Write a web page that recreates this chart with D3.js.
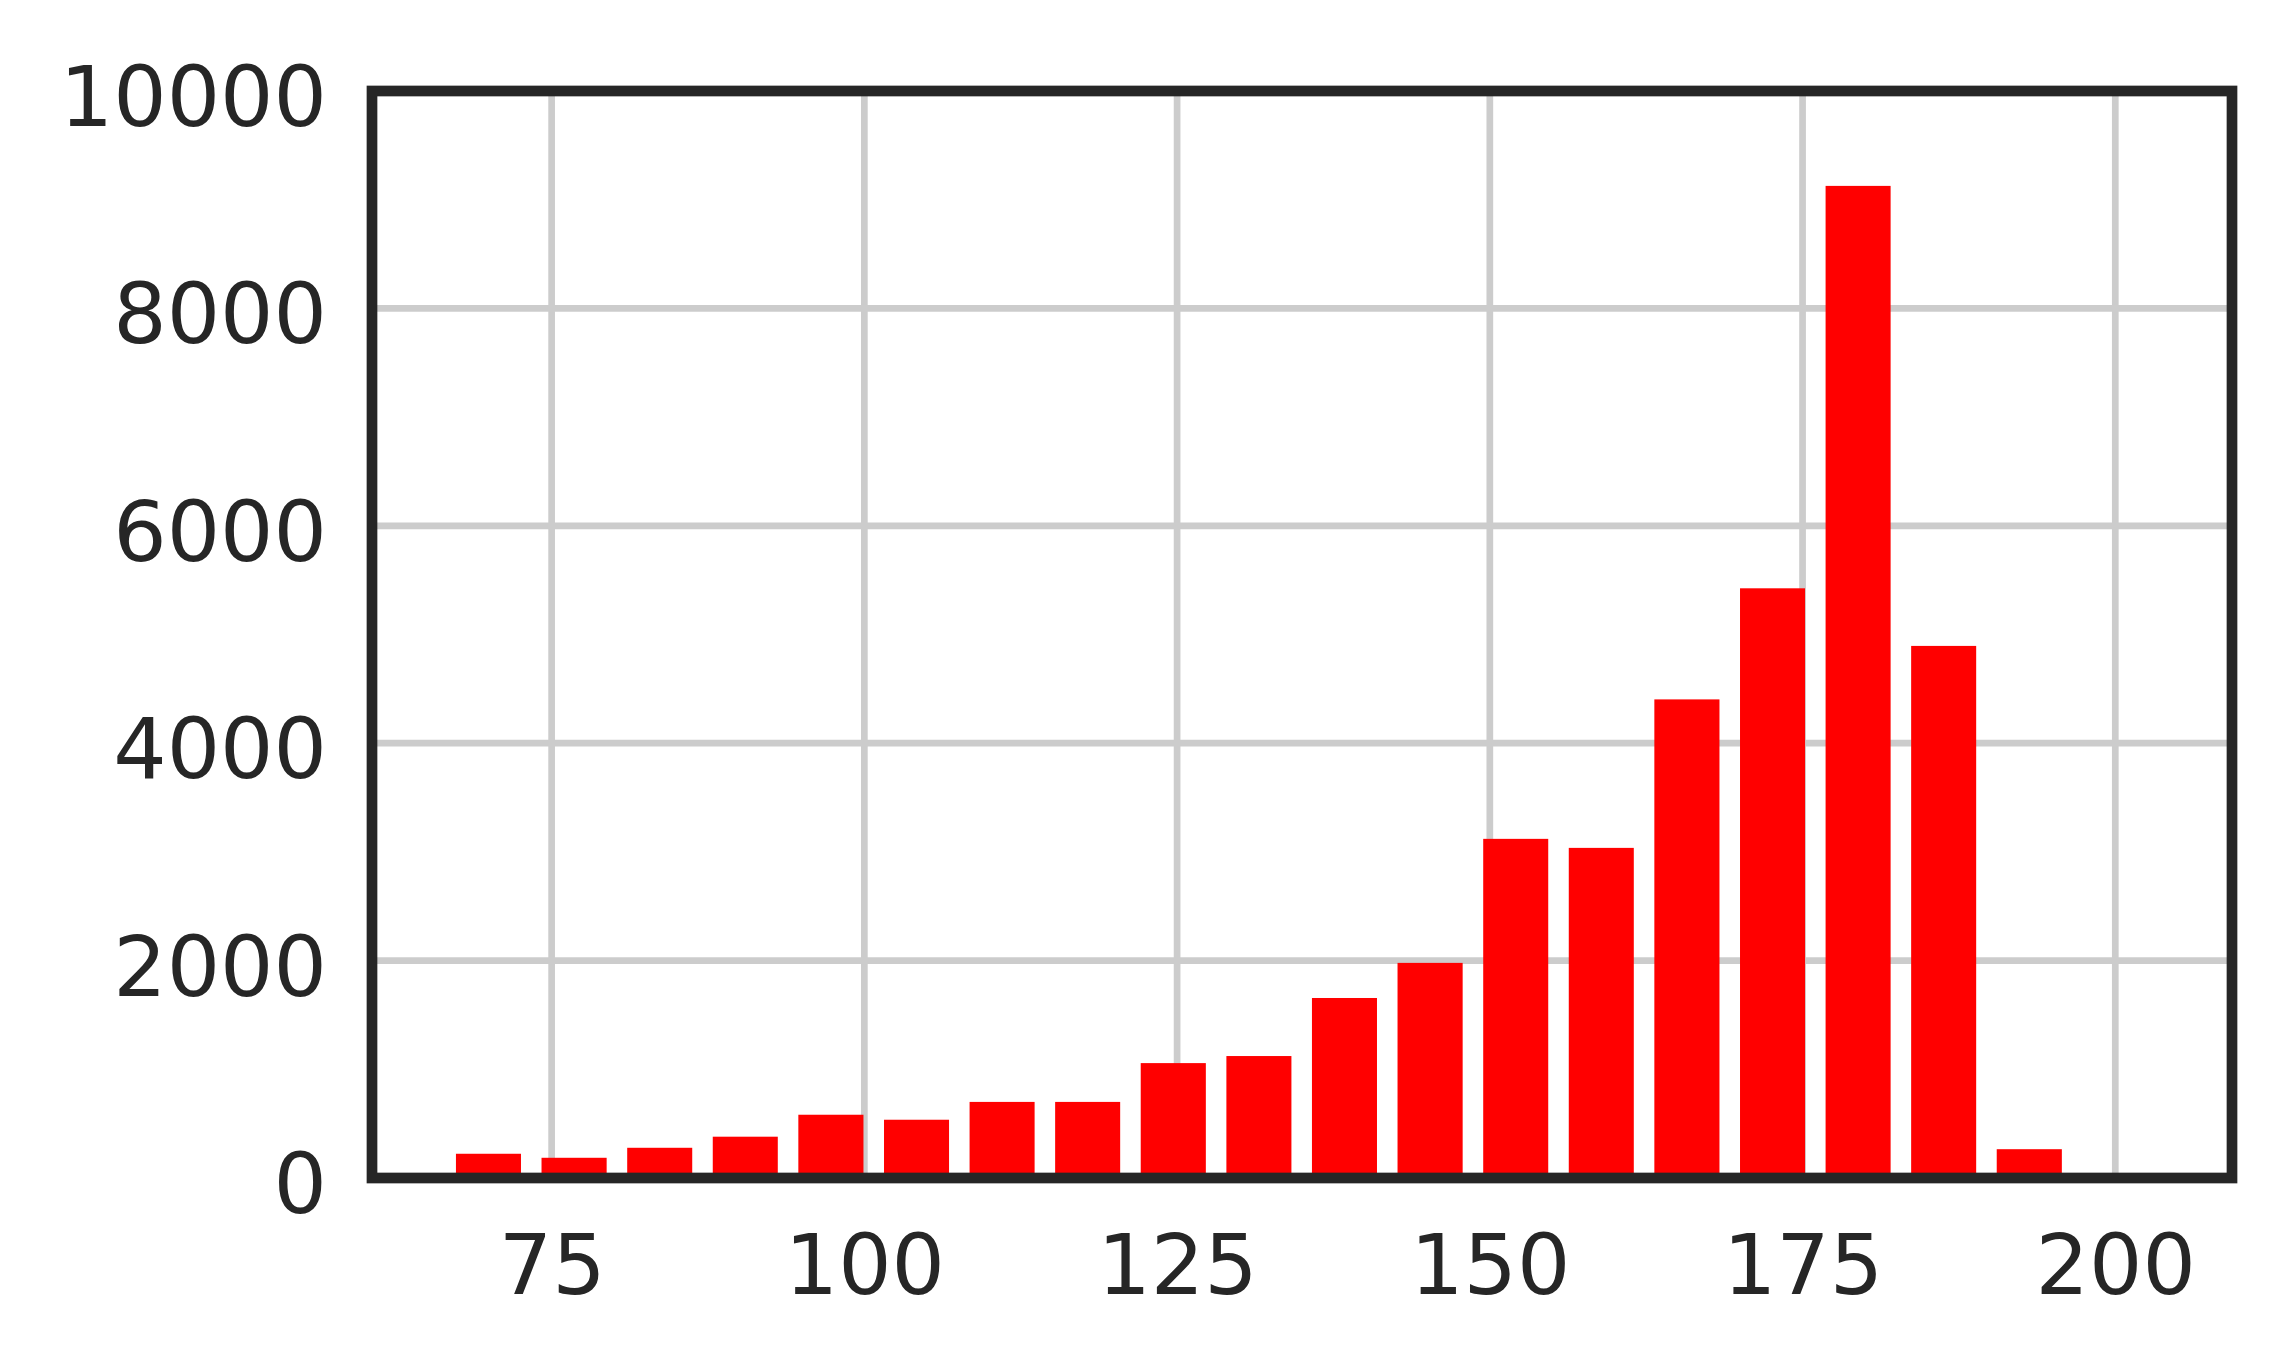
<!DOCTYPE html>
<html>
<head>
<meta charset="utf-8">
<script src="https://cdn.jsdelivr.net/npm/d3@7"></script>
<style>
  html, body { margin: 0; padding: 0; background: #ffffff; }
  svg { display: block; }
</style>
</head>
<body>
<svg id="chart" width="2291" height="1366"></svg>
<script>
// ---- data ----
const binEdges = [66.53, 73.37, 80.22, 87.06, 93.90, 100.75, 107.59, 114.43, 121.27, 128.12,
                  134.96, 141.80, 148.65, 155.49, 162.33, 169.18, 176.02, 182.86, 189.70, 196.55, 203.39];
const counts = [223, 186, 278, 380, 582, 536, 700, 700, 1057, 1122,
                1656, 1979, 3120, 3037, 4403, 5425, 9127, 4895, 265, 0];
const xTickValues = [75, 100, 125, 150, 175, 200];
const yTickValues = [0, 2000, 4000, 6000, 8000, 10000];
const xDomain = [60.64, 209.33];
const yDomain = [0, 10000];
const barFraction = 0.76;

// ---- layout ----
const plotLeft = 372, plotRight = 2232, plotTop = 91, plotBottom = 1178;
const fontSize = 84;
const textColor = "#262626";

const svg = d3.select("#chart");
const x = d3.scaleLinear().domain(xDomain).range([plotLeft, plotRight]);
const y = d3.scaleLinear().domain(yDomain).range([plotBottom, plotTop]);

// gridlines
const grid = svg.append("g");
grid.selectAll("line.vg").data(xTickValues).enter().append("line")
  .attr("class", "vg")
  .attr("x1", d => x(d)).attr("x2", d => x(d))
  .attr("y1", plotTop).attr("y2", plotBottom)
  .attr("stroke", "#cccccc").attr("stroke-width", 6.7);
grid.selectAll("line.hg").data(yTickValues).enter().append("line")
  .attr("class", "hg")
  .attr("x1", plotLeft).attr("x2", plotRight)
  .attr("y1", d => y(d)).attr("y2", d => y(d))
  .attr("stroke", "#cccccc").attr("stroke-width", 6.7);

// bars
const bins = counts.map((c, i) => ({x0: binEdges[i], x1: binEdges[i + 1], count: c}));
svg.append("g").selectAll("rect").data(bins).enter().append("rect")
  .attr("x", d => {
    const w = x(d.x1) - x(d.x0);
    return x(d.x0) + w * (1 - barFraction) / 2;
  })
  .attr("width", d => (x(d.x1) - x(d.x0)) * barFraction)
  .attr("y", d => y(d.count))
  .attr("height", d => y(0) - y(d.count))
  .attr("fill", "#ff0000");

// axes (labels only)
const xAxis = svg.append("g")
  .attr("transform", `translate(0,${plotBottom})`)
  .call(d3.axisBottom(x).tickValues(xTickValues).tickSize(0).tickPadding(56).tickFormat(d3.format("d")));
const yAxis = svg.append("g")
  .attr("transform", `translate(${plotLeft},0)`)
  .call(d3.axisLeft(y).tickValues(yTickValues).tickSize(0).tickPadding(45).tickFormat(d3.format("d")));

[xAxis, yAxis].forEach(g => {
  g.select(".domain").remove();
  g.selectAll("text")
    .attr("fill", textColor)
    .style("font-family", "'DejaVu Sans', sans-serif")
    .style("font-size", fontSize + "px");
});
yAxis.selectAll("text").attr("dy", "0.41em");

// frame
svg.append("rect")
  .attr("x", plotLeft).attr("y", plotTop)
  .attr("width", plotRight - plotLeft).attr("height", plotBottom - plotTop)
  .attr("fill", "none")
  .attr("stroke", "#262626")
  .attr("stroke-width", 10.7)
  .attr("stroke-linecap", "square");
</script>
</body>
</html>
